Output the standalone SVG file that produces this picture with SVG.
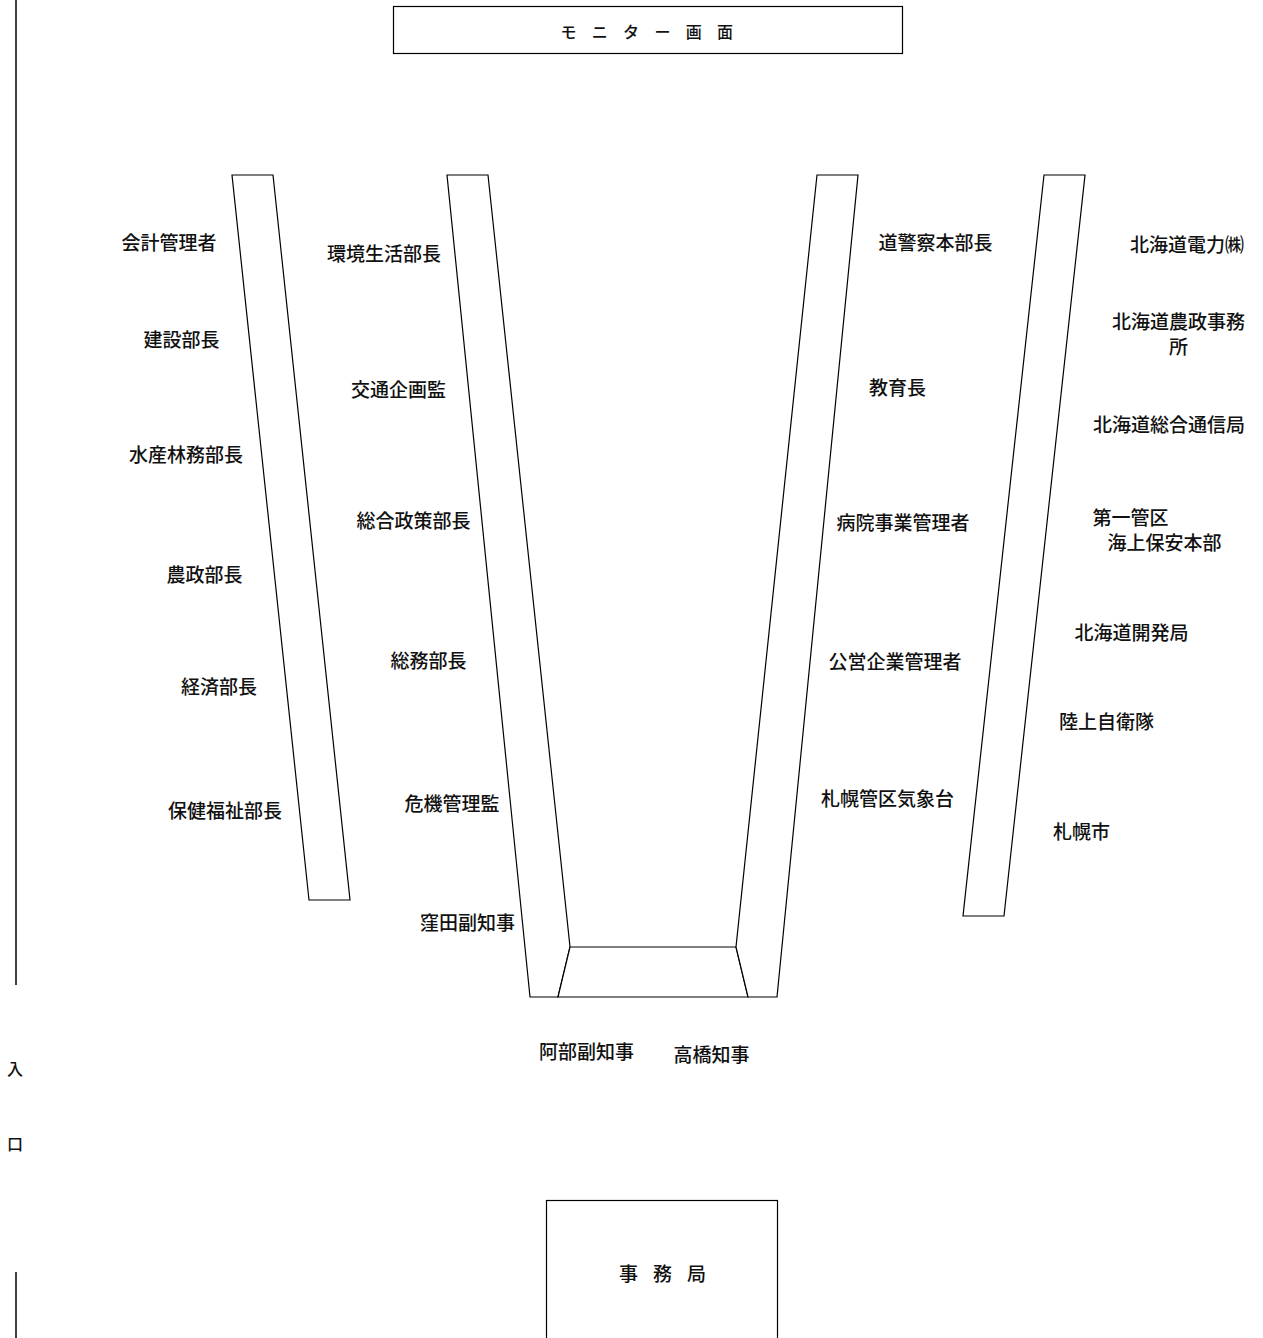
<svg xmlns="http://www.w3.org/2000/svg" width="1263" height="1338" viewBox="0 0 1263 1338">
<style>
.t{font-family:"Noto Sans CJK JP","Noto Sans CJK SC",sans-serif;font-size:19px;font-weight:500;fill:#111;dominant-baseline:central;text-anchor:middle}
.s{fill:#fff;stroke:#000;stroke-width:1.2}
.w{stroke:#000;stroke-width:1.5;fill:none}
</style>
<rect width="1263" height="1338" fill="#fff"/>
<g id="walls">
<line class="w" x1="16" y1="0" x2="16" y2="985"/>
<line class="w" x1="16" y1="1272" x2="16" y2="1338"/>
<text class="t" x="15" y="1068" style="font-size:16px">入</text>
<text class="t" x="15" y="1143" style="font-size:16px">口</text>
</g>
<g id="monitor">
<rect class="s" x="393.5" y="6.5" width="509" height="47"/>
<text class="t" style="font-size:16px" y="31"><tspan x="568.5">モ</tspan><tspan x="599.8">ニ</tspan><tspan x="631.1">タ</tspan><tspan x="662.4">ー</tspan><tspan x="693.7">画</tspan><tspan x="725">面</tspan></text>
</g>
<g id="tables">
<polygon id="table-left" class="s" points="232,175 273,175 350,900 309,900"/>
<polygon id="table-center-left" class="s" points="447,175 488,175 570,947 558,997 530,997"/>
<polygon id="table-head" class="s" points="570,947 736,947 748,997 558,997"/>
<polygon id="table-center-right" class="s" points="817,175 858,175 777,997 748,997 736,947"/>
<polygon id="table-right" class="s" points="1044,175 1085,175 1004,916 963,916"/>
</g>
<g id="col1">
<text class="t" x="169" y="241">会計管理者</text>
<text class="t" x="181.5" y="338">建設部長</text>
<text class="t" x="186" y="453">水産林務部長</text>
<text class="t" x="204.5" y="573">農政部長</text>
<text class="t" x="219" y="685">経済部長</text>
<text class="t" x="225" y="809">保健福祉部長</text>
</g>
<g id="col2">
<text class="t" x="384" y="252">環境生活部長</text>
<text class="t" x="398.5" y="388">交通企画監</text>
<text class="t" x="413.5" y="519">総合政策部長</text>
<text class="t" x="428.5" y="659">総務部長</text>
<text class="t" x="452" y="802">危機管理監</text>
<text class="t" x="467.5" y="921">窪田副知事</text>
</g>
<g id="head">
<text class="t" x="586.5" y="1050">阿部副知事</text>
<text class="t" x="711.5" y="1053">高橋知事</text>
</g>
<g id="col3">
<text class="t" x="935.5" y="241">道警察本部長</text>
<text class="t" x="897.5" y="386">教育長</text>
<text class="t" x="903" y="521">病院事業管理者</text>
<text class="t" x="895" y="660">公営企業管理者</text>
<text class="t" x="887.5" y="797">札幌管区気象台</text>
</g>
<g id="col4">
<text class="t" x="1187" y="243">北海道電力㈱</text>
<text class="t" x="1178.5" y="320">北海道農政事務</text>
<text class="t" x="1178.5" y="345">所</text>
<text class="t" x="1169" y="423">北海道総合通信局</text>
<text class="t" x="1130.5" y="516">第一管区</text>
<text class="t" x="1164.5" y="541">海上保安本部</text>
<text class="t" x="1131.5" y="631">北海道開発局</text>
<text class="t" x="1106.5" y="720">陸上自衛隊</text>
<text class="t" x="1081.5" y="830">札幌市</text>
</g>
<g id="office">
<rect class="s" x="546.5" y="1200.5" width="231" height="150"/>
<text class="t" y="1272" style="font-size:19px"><tspan x="628.5">事</tspan><tspan x="662.5">務</tspan><tspan x="696.5">局</tspan></text>
</g>
</svg>
